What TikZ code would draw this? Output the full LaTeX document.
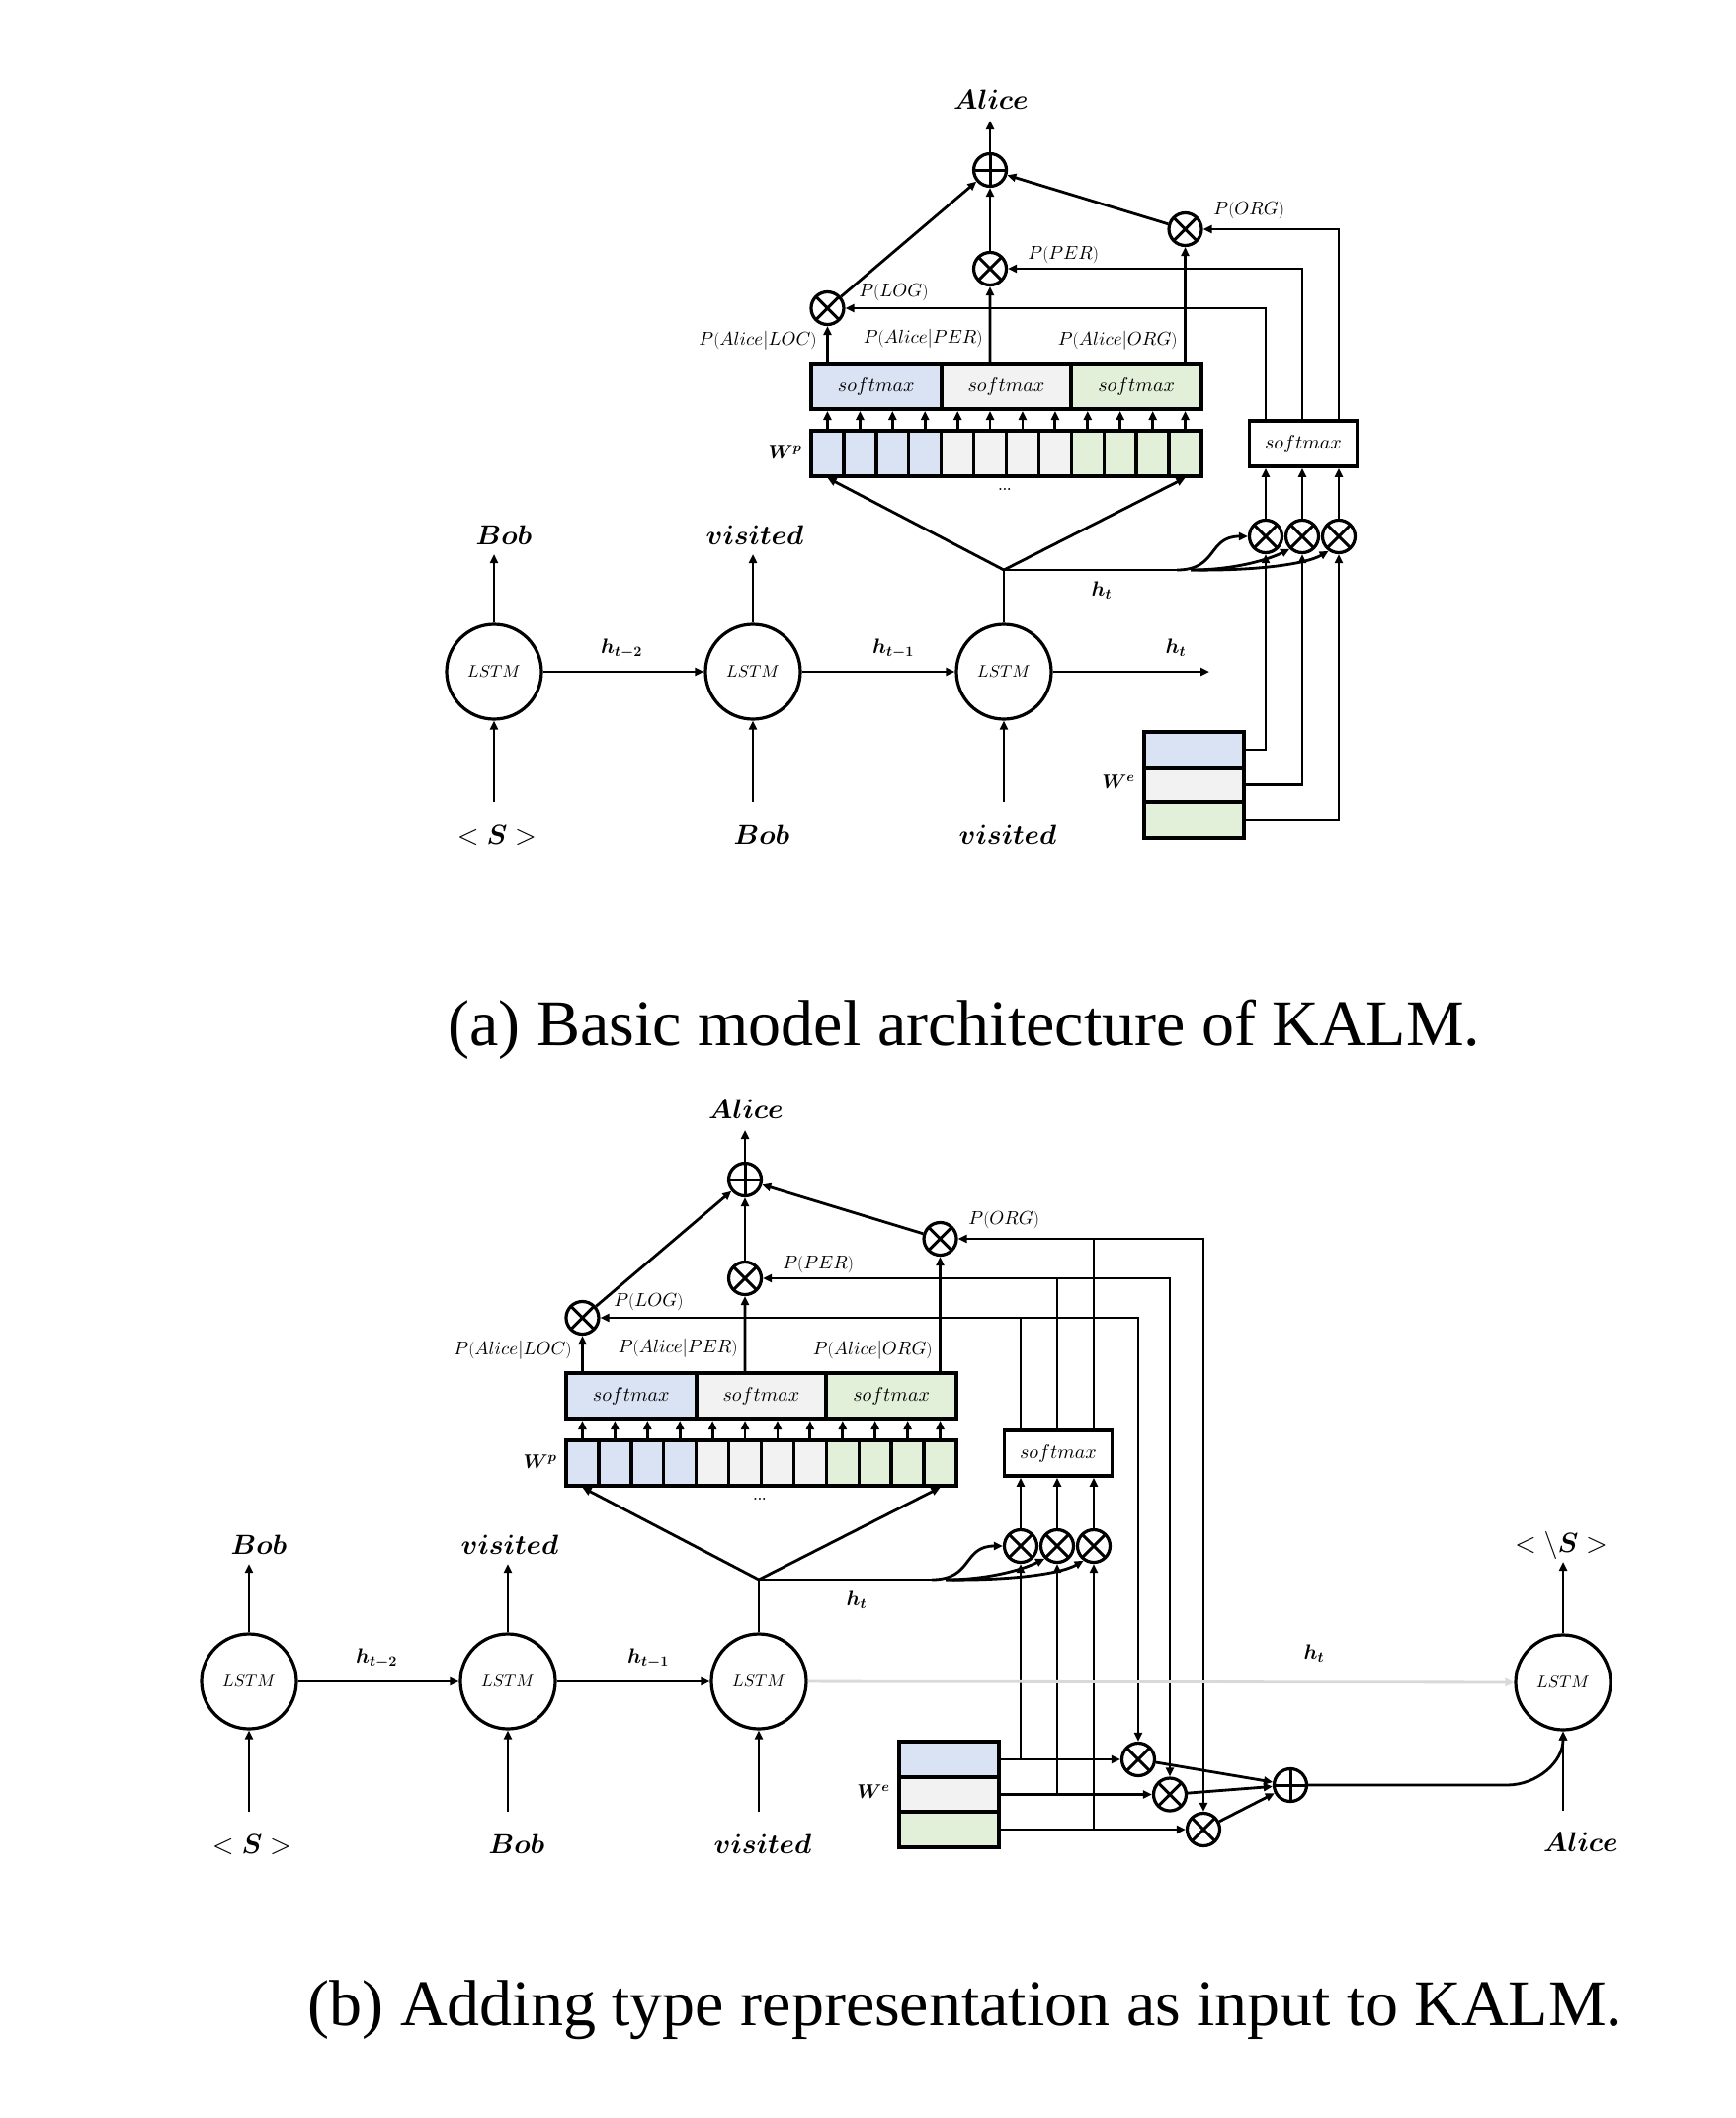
\documentclass[tikz,border=0pt]{standalone}
\usepackage{fontspec}
\usepackage{bm}
\usetikzlibrary{arrows.meta}
\DeclareFontShape{OML}{cmm}{m}{it}{<->cmmi10}{}
\DeclareFontShape{OML}{cmm}{b}{it}{<->cmmib10}{}
\DeclareFontShape{OMS}{cmsy}{m}{n}{<->cmsy10}{}
\DeclareFontShape{OMS}{cmsy}{b}{n}{<->cmbsy10}{}
\newfontfamily\capfont{Liberation Serif}
\definecolor{cb}{RGB}{218,227,243}
\definecolor{cg}{RGB}{242,242,242}
\definecolor{cn}{RGB}{226,240,217}
\definecolor{lgray}{RGB}{217,217,217}
\tikzset{
 lstm/.style={circle,draw,line width=3.2pt,minimum size=96pt,inner sep=0pt,font=\fontsize{17}{20}\selectfont},
 opc/.style={circle,draw,fill=white,line width=3.2pt,minimum size=33pt,inner sep=0pt},
 otimes/.style={opc,path picture={\draw[line width=3pt] (path picture bounding box.north west)--(path picture bounding box.south east) (path picture bounding box.north east)--(path picture bounding box.south west);}},
 oplus/.style={opc,path picture={\draw[line width=3pt] (path picture bounding box.north)--(path picture bounding box.south) (path picture bounding box.west)--(path picture bounding box.east);}},
 cell/.style={draw,line width=3.4pt,minimum width=32.92pt,minimum height=46pt,inner sep=0pt},
 smbox/.style={draw,line width=4pt,minimum width=131.67pt,minimum height=46pt,inner sep=0pt,font=\fontsize{20}{24}\selectfont},
 rsbox/.style={draw,fill=white,line width=3.6pt,minimum width=109pt,minimum height=46pt,inner sep=0pt,font=\fontsize{20}{24}\selectfont},
 wecell/.style={draw,line width=3.8pt,minimum width=101pt,minimum height=35.5pt,inner sep=0pt},
 arr/.style={-{Triangle[length=9pt,width=8pt]}},
 darr/.style={{Triangle[length=9pt,width=8pt]}-{Triangle[length=9pt,width=8pt]}},
 word/.style={font=\fontsize{28}{32}\selectfont,inner sep=2pt},
 plbl/.style={font=\fontsize{19}{22}\selectfont,inner sep=1pt},
 hlbl/.style={font=\fontsize{21}{24}\selectfont,inner sep=1pt},
 wlbl/.style={font=\fontsize{20}{24}\selectfont,inner sep=1pt},
 capt/.style={font=\capfont\fontsize{66}{76}\selectfont,inner sep=0pt},
}
\newcommand\kalmshared[1]{%
 % LSTM chain
 \node[lstm] (#1l1) at (500,680) {$LSTM$};
 \node[lstm] (#1l2) at (762,680) {$LSTM$};
 \node[lstm] (#1l3) at (1016,680) {$LSTM$};
 \node[word] (#1t1) at (510,542) {$\bm{Bob}$};
 \node[word] (#1t2) at (764,542) {$\bm{visited}$};
 \coordinate (#1tt1) at (500,561);
 \coordinate (#1tt2) at (762,561);
 \draw[arr] (#1l1.north) -- (#1tt1);
 \draw[arr] (#1l2.north) -- (#1tt2);
 \node[word] (#1b1) at (503,845) {$<\bm{S}>$};
 \node[word] (#1b2) at (771,845) {$\bm{Bob}$};
 \node[word] (#1b3) at (1020,845) {$\bm{visited}$};
 \coordinate (#1bi1) at (500,812);
 \coordinate (#1bi2) at (762,812);
 \coordinate (#1bi3) at (1016,812);
 \draw[arr] (#1bi1) -- (#1l1.south);
 \draw[arr] (#1bi2) -- (#1l2.south);
 \draw[arr] (#1bi3) -- (#1l3.south);
 \draw[arr] (#1l1) -- (#1l2);
 \draw[arr] (#1l2) -- (#1l3);
 \node[hlbl] (#1h2) at (629,657) {$\bm{h_{t-2}}$};
 \node[hlbl] (#1h1) at (904,657) {$\bm{h_{t-1}}$};
 % softmax row and W^p
 \node[smbox,fill=cb] (#1sm1) at (886.83,391) {$softmax$};
 \node[smbox,fill=cg] (#1sm2) at (1018.5,391) {$softmax$};
 \node[smbox,fill=cn] (#1sm3) at (1150.17,391) {$softmax$};
 \foreach \i/\c in {1/cb,2/cb,3/cb,4/cb,5/cg,6/cg,7/cg,8/cg,9/cn,10/cn,11/cn,12/cn}{
   \node[cell,fill=\c] (#1w\i) at ({821+32.9167*(\i-0.5)},459) {};
 }
 \foreach \i in {1,...,12}{
   \draw[arr] (#1w\i.north) -- (#1w\i.north |- #1sm1.south);
 }
 \node[wlbl,anchor=east] (#1wpl) at (814,458) {$\bm{W^p}$};
 \node[font=\fontsize{14}{14}\selectfont\bfseries,inner sep=0pt] (#1dots) at (1017,495) {...};
 % mixing
 \node[otimes] (#1oL) at (837.46,312) {};
 \node[otimes] (#1oP) at (1002.04,272) {};
 \node[otimes] (#1oO) at (1199.54,232) {};
 \node[oplus] (#1pl) at (1002.04,172) {};
 \node[word] (#1alice) at (1003,101) {$\bm{Alice}$};
 \coordinate (#1atip) at (1002.04,122);
 \draw[arr] (#1w1.north |- #1sm1.north) -- (#1oL.south);
 \draw[arr] (#1w6.north |- #1sm2.north) -- (#1oP.south);
 \draw[arr] (#1w12.north |- #1sm3.north) -- (#1oO.south);
 \draw[arr] (#1oL) -- (#1pl);
 \draw[arr] (#1oP) -- (#1pl);
 \draw[arr] (#1oO) -- (#1pl);
 \draw[arr] (#1pl.north) -- (#1atip);
 \node[plbl,anchor=west] (#1pO) at (1226,213) {$P(ORG)$};
 \node[plbl,anchor=west] (#1pP) at (1038,258) {$P(PER)$};
 \node[plbl,anchor=west] (#1pL) at (867,296) {$P(LOG)$};
 \node[plbl,anchor=east] (#1pAL) at (829,345) {$P(Alice|LOC)$};
 \node[plbl,anchor=east] (#1pAP) at (997,343) {$P(Alice|PER)$};
 \node[plbl,anchor=east] (#1pAO) at (1194,345) {$P(Alice|ORG)$};
 % junction to W^p
 \coordinate (#1j) at (1016,577);
 \draw (#1l3.north) -- (#1j);
 \draw[arr] (#1j) -- (#1w1.south);
 \draw[arr] (#1j) -- (#1w12.south);
 % type softmax
 \node[rsbox] (#1rs) at (1319,449) {$softmax$};
 \node[otimes] (#1s1) at (1281,543) {};
 \node[otimes] (#1s2) at (1318,543) {};
 \node[otimes] (#1s3) at (1355,543) {};
 \draw[arr] (#1s1.north) -- (#1s1.north |- #1rs.south);
 \draw[arr] (#1s2.north) -- (#1s2.north |- #1rs.south);
 \draw[arr] (#1s3.north) -- (#1s3.north |- #1rs.south);
 \coordinate (#1hc) at (1191,577);
 \coordinate (#1hc2) at (1205,577);
 \draw (#1j) -- (#1hc);
 \draw[arr] (#1hc) .. controls (1233,577) and (1222,543) .. (#1s1.west);
 \draw[arr] (#1hc2) .. controls (1250,577) and (1285,566) .. (#1s2.225);
 \draw[arr] (#1hc2) .. controls (1265,578) and (1320,572) .. (#1s3.235);
 \node[hlbl] (#1ht) at (1115,598) {$\bm{h_t}$};
 % W^e
 \node[wecell,fill=cb] (#1e1) at (1208.5,759) {};
 \node[wecell,fill=cg] (#1e2) at (1208.5,794.5) {};
 \node[wecell,fill=cn] (#1e3) at (1208.5,830) {};
 \node[wlbl,anchor=east] (#1wel) at (1151,792) {$\bm{W^e}$};
}
\begin{document}
\begin{tikzpicture}[x=1pt,y=-1pt,line width=2.8pt]
\fill[white] (0,0) rectangle (1756,2144);
\useasboundingbox (0,0) rectangle (1756,2144);
% ---------------- (a) ----------------
\begin{scope}
\kalmshared{a}
\end{scope}
\draw[arr] (as1.north |- ars.north) |- (aoL.east);
\draw[arr] (as2.north |- ars.north) |- (aoP.east);
\draw[arr] (as3.north |- ars.north) |- (aoO.east);
\draw[arr] (ae1.east) -| (as1.south);
\draw[arr] (ae2.east) -| (as2.south);
\draw[arr] (ae3.east) -| (as3.south);
\coordinate (aend) at (1224,680);
\draw[arr] (al3.east) -- (aend);
\node[hlbl] (aht2) at (1190,656) {$\bm{h_t}$};
\node[capt] (capa) at (976,1042) {(a) Basic model architecture of KALM.};
% ---------------- (b) ----------------
\begin{scope}[shift={(-248,1022)}]
\kalmshared{b}
\end{scope}
\node[otimes] (bxa) at (1152,1781) {};
\node[otimes] (bxb) at (1184,1816.5) {};
\node[otimes] (bxc) at (1218,1852) {};
\node[oplus] (bsum) at (1306,1807) {};
\draw (bs1.north |- brs.north) -- (bs1.north |- boL.east);
\draw (bs2.north |- brs.north) -- (bs2.north |- boP.east);
\draw (bs3.north |- brs.north) -- (bs3.north |- boO.east);
\draw[darr] (boL.east) -| (bxa.north);
\draw[darr] (boP.east) -| (bxb.north);
\draw[darr] (boO.east) -| (bxc.north);
\draw[arr] (be1.east) -- (bxa.west);
\draw[arr] (be2.east) -- (bxb.west);
\draw[arr] (be3.east) -- (bxc.west);
\draw[arr] (bs1.south |- be1.east) -- (bs1.south);
\draw[arr] (bs2.south |- be2.east) -- (bs2.south);
\draw[arr] (bs3.south |- be3.east) -- (bs3.south);
\draw[arr] (bxa) -- (bsum);
\draw[arr] (bxb) -- (bsum);
\draw[arr] (bxc) -- (bsum);
\node[lstm] (b4) at (1582,1703) {$LSTM$};
\draw[arr,draw=lgray] (bl3) -- (b4);
\node[hlbl] (bht2) at (1330,1674) {$\bm{h_t}$};
\coordinate (bturn) at (1525,1807);
\draw[arr] (bsum.east) -- (bturn) to[out=0,in=-90] (b4.south);
\node[word] (bend) at (1580,1564) {$<\backslash\bm{S}>$};
\coordinate (btip4) at (1582,1581);
\draw[arr] (b4.north) -- (btip4);
\node[word] (balice) at (1600,1865) {$\bm{Alice}$};
\coordinate (bin4) at (1582,1833);
\draw[arr] (bin4) -- (b4.south);
\node[capt] (capb) at (977,2035) {(b) Adding type representation as input to KALM.};
\end{tikzpicture}
\end{document}
